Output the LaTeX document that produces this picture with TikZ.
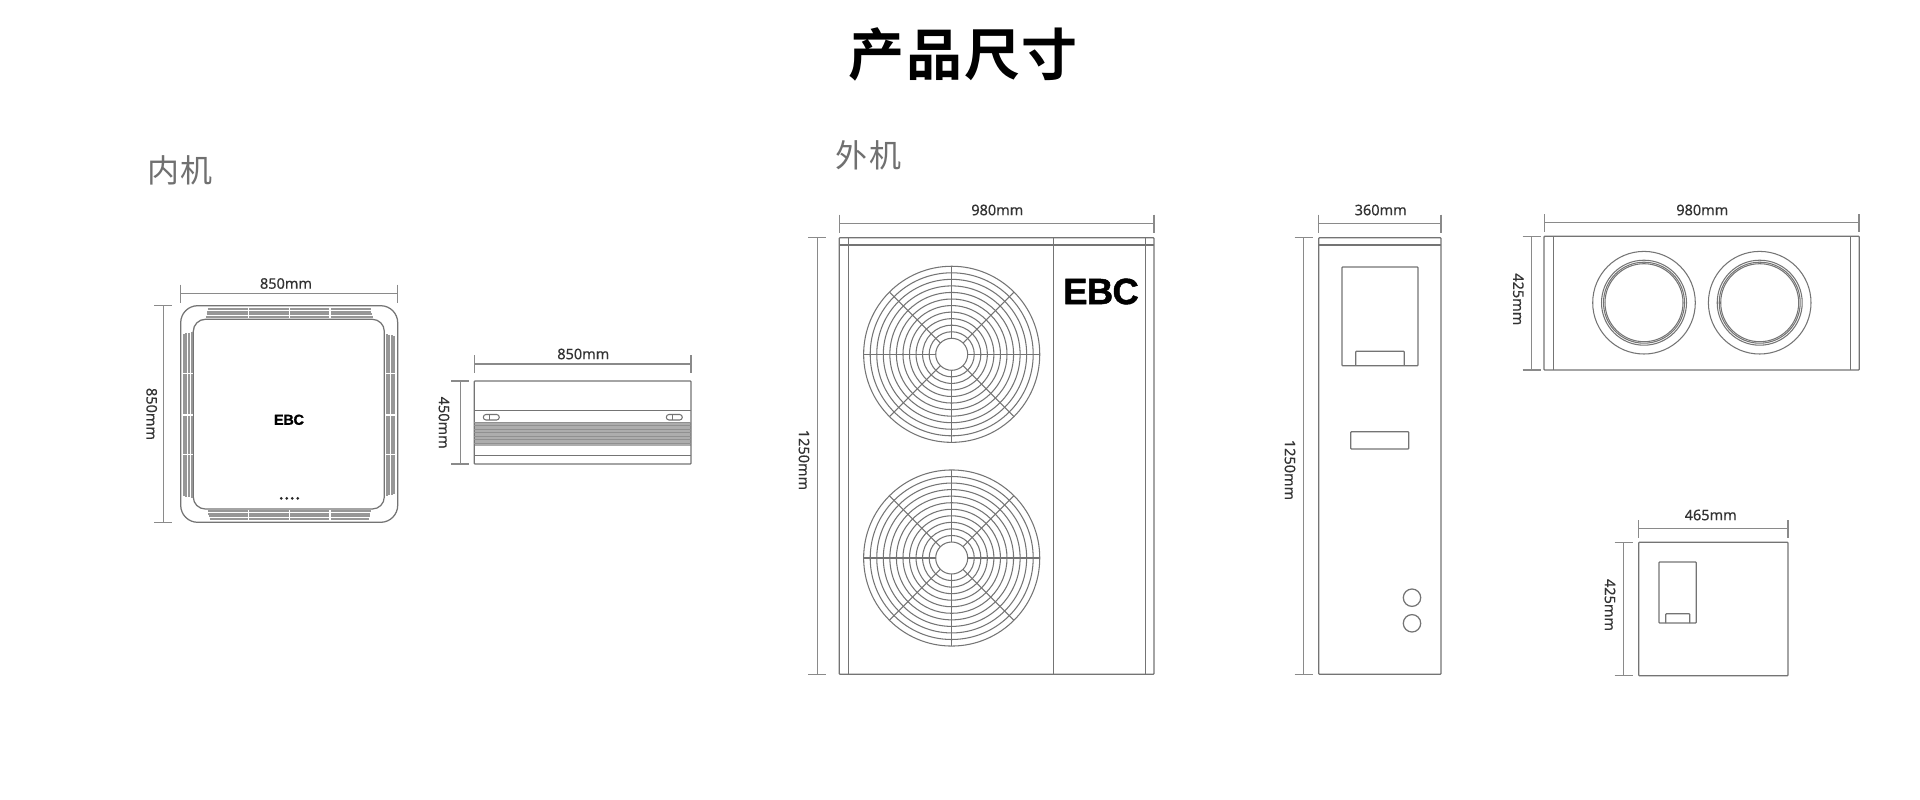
\documentclass[tikz,border=0pt]{standalone}
\usepackage{fontspec}
\setmainfont[FakeBold=0.35]{Noto Sans}
\newfontfamily\cjkbold[LetterSpace=3]{Noto Sans CJK SC Bold}
\newfontfamily\cjkreg[LetterSpace=6]{Noto Sans CJK SC}
\newfontfamily\logofont[FakeBold=1.2,LetterSpace=-2]{Liberation Sans Bold}
\definecolor{ln}{HTML}{747474}
\definecolor{dm}{HTML}{8A8A8A}
\definecolor{tx}{HTML}{333333}
\definecolor{sub}{HTML}{707070}
\tikzset{
  outline/.style={draw=ln,line width=1.25pt,rounded corners=0.8pt},
  thin part/.style={draw=ln,line width=1.05pt},
  dimline/.style={draw=dm,line width=1.2pt},
  dimtext/.style={text=tx,font=\fontsize{14.5}{16}\selectfont,inner sep=0pt},
  vent/.style={draw=ln!75,line width=2pt},
  sep/.style={draw=white,line width=1.3pt},
}
% horizontal dimension: x1, x2, y, text x, text y, label
\newcommand{\hdimen}[6]{%
  \coordinate (a) at (#1,#3); \coordinate (b) at (#2,#3);
  \draw[dimline] (a) -- (b);
  \draw[dimline] ([yshift=8.7pt]a) -- ([yshift=-9.2pt]a);
  \draw[dimline] ([yshift=8.7pt]b) -- ([yshift=-9.2pt]b);
  \node[dimtext] at (#4,#5) {#6};}
% vertical dimension: x, y1, y2, text x, text y, label
\newcommand{\vdimen}[6]{%
  \coordinate (a) at (#1,#2); \coordinate (b) at (#1,#3);
  \draw[dimline] (a) -- (b);
  \draw[dimline] ([xshift=-9pt]a) -- ([xshift=9pt]a);
  \draw[dimline] ([xshift=-9pt]b) -- ([xshift=9pt]b);
  \node[dimtext,rotate=-90] at (#4,#5) {#6};}
% fan guard at x,y
\newcommand{\fanguard}[2]{%
  \begin{scope}[shift={(#1,#2)}]
    \foreach \i in {0,...,11}
      \draw[thin part] (0,0) circle[radius={16+\i*6.55}];
    \foreach \a in {0,45,...,315}
      \draw[thin part] (\a:16) -- (\a:88);
  \end{scope}}
% stripes
\newcommand{\hvent}[3]{%
  \foreach \i in {0,1,2,3} {
    \pgfmathsetmacro{\yy}{#1+\i*#2}
    \pgfmathsetmacro{\dd}{#3*\i}
    \draw[vent] (207.7+\dd,\yy) -- (370.7-\dd,\yy);
  }
  \foreach \xx in {248.3,289.3,330} \draw[sep] (\xx,#1-1.5) -- (\xx,#1+3*#2+1.5);
}
\newcommand{\vvent}[3]{%
  \foreach \i in {0,1,2,3} {
    \pgfmathsetmacro{\xx}{#1+\i*#2}
    \pgfmathsetmacro{\dd}{#3*\i}
    \draw[vent] (\xx,334+\dd) -- (\xx,496-\dd);
  }
  \foreach \yy in {373.3,415,454.3} \draw[sep] (#1-1.5,\yy) -- (#1+3*#2+1.5,\yy);
}
\begin{document}
\begin{tikzpicture}[x=1pt,y=-1pt]
\useasboundingbox[fill=white] (0,0) rectangle (1920,800);

% Titles
\node[inner sep=0pt,font=\cjkbold\fontsize{56}{60}\selectfont,text=black] (title) at (963.5,54) {产品尺寸};
\node[inner sep=0pt,font=\cjkreg\fontsize{32}{34}\selectfont,text=sub] (inner) at (180,170) {内机};
\node[inner sep=0pt,font=\cjkreg\fontsize{32}{34}\selectfont,text=sub] (outer) at (868.5,155) {外机};

% Indoor unit, plan
\draw[outline,rounded corners=17pt] (180.7,305.7) rectangle (397.7,522.3);
\draw[outline,rounded corners=12pt] (193.3,319.3) rectangle (384.3,509);
\hvent{309.3}{2.5}{-0.6}
\hvent{511.3}{2.5}{0.6}
\vvent{183.7}{2.6}{-0.6}
\vvent{386.5}{2.6}{0.6}
\node[inner sep=0pt,text=black,font=\logofont\fontsize{14.5}{14}\selectfont] (ebcs) at (289,419.8) {EBC};
\foreach \xx in {281.5,287,292.5,298} \fill[black!85] (\xx-0.2,498.3) circle[radius=1.5];
\hdimen{180.7}{397.2}{293.3}{286}{283.5}{850mm}
\vdimen{163.3}{305.7}{522.3}{151.7}{414}{850mm}

% Indoor unit, side
\fill[black!32] (474.3,421.7) rectangle (691,446);
\draw[outline] (474.3,381) rectangle (691,464);
\foreach \yy in {410.7,455.7} \draw[thin part] (474.3,\yy) -- (691,\yy);
\foreach \yy in {422.2,425.7,...,446} \draw[draw=ln!80,line width=1pt] (474.3,\yy) -- (691,\yy);
\foreach \xx in {491.3,674.3} {
  \draw[thin part,rounded corners=2.7pt] (\xx-8,414.5) rectangle (\xx+8,420);
  \draw[thin part] (\xx-2,414.5) -- (\xx-2,420);
}
\hdimen{474.7}{691}{364}{583.3}{354}{850mm}
\vdimen{460.3}{381}{464}{444}{422.7}{450mm}

% Outdoor unit, front
\draw[outline] (839.3,237.7) rectangle (1154,674.3);
\draw[outline] (839.3,245) -- (1154,245);
\foreach \xx in {848.3,1053.7,1145.3} \draw[outline] (\xx,237.7) -- (\xx,674.3);
\fanguard{951.7}{354.3}
\fanguard{951.7}{558}
\node[inner sep=0pt,text=black,font=\logofont\fontsize{36.5}{36}\selectfont] (ebc) at (1101,291.5) {EBC};
\hdimen{839.3}{1154}{223.3}{997.3}{210}{980mm}
\vdimen{817.3}{237.7}{674.3}{804}{460}{1250mm}

% Outdoor unit, side
\draw[outline] (1318.7,237.7) rectangle (1441,674.3);
\draw[outline] (1318.7,245) -- (1441,245);
\draw[outline] (1342,267) rectangle (1418,365.7);
\draw[outline] (1355.7,365.7) |- (1404.3,351.3) -- (1404.3,365.7);
\draw[outline] (1350.7,431.7) rectangle (1408.7,449);
\draw[outline] (1412,597.7) circle[radius=8.7];
\draw[outline] (1412,623.3) circle[radius=8.7];
\hdimen{1318.7}{1441}{223.3}{1380.7}{210}{360mm}
\vdimen{1303.7}{237.7}{674.3}{1290}{470}{1250mm}

% Outdoor unit, top
\draw[outline] (1544,236.3) rectangle (1859.3,370);
\foreach \xx in {1553.3,1850.3} \draw[outline] (\xx,236.3) -- (\xx,370);
\foreach \xx in {1644,1759.7} {
  \draw[thin part] (\xx,302.7) circle[radius=51.3];
  \draw[thin part] (\xx,302.7) circle[radius=42.5];
  \draw[thin part] (\xx,302.7) circle[radius=40.5];
  \draw[thin part] (\xx,302.7) circle[radius=39];
}
\hdimen{1544.3}{1859}{222.7}{1702.3}{210}{980mm}
\vdimen{1531.7}{236.3}{370}{1518.3}{299.3}{425mm}

% Outdoor unit, end
\draw[outline] (1638.7,542.3) rectangle (1788,675.7);
\draw[outline] (1659,562) rectangle (1696.3,623);
\draw[outline] (1665.7,623) |- (1689.7,613.7) -- (1689.7,623);
\hdimen{1638.7}{1788}{528.7}{1710.7}{515}{465mm}
\vdimen{1623.7}{542.3}{675.7}{1610}{605}{425mm}
\end{tikzpicture}
\end{document}
